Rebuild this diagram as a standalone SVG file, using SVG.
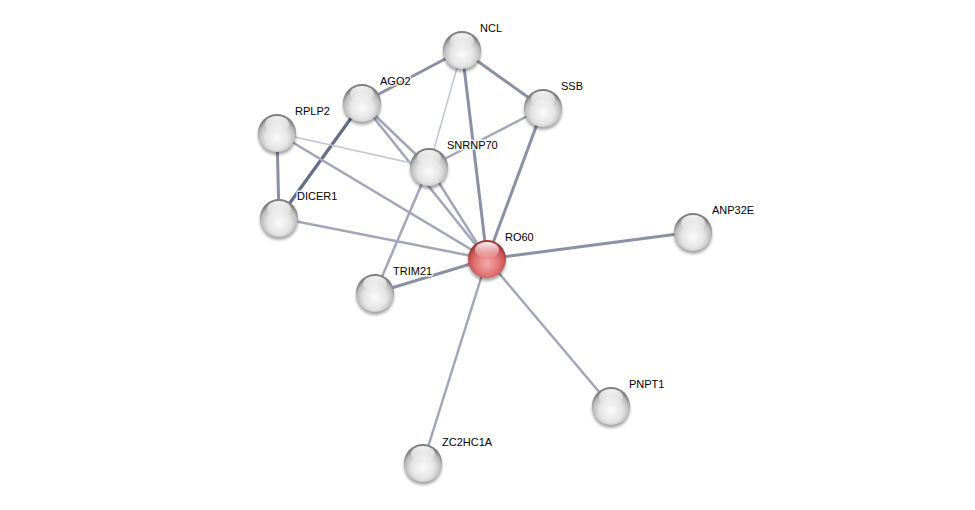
<svg xmlns="http://www.w3.org/2000/svg" width="975" height="510" viewBox="0 0 975 510">
<defs>
<radialGradient id="gw" cx="0.5" cy="0.62" r="0.55">
<stop offset="0" stop-color="#fbfbfb"/>
<stop offset="0.55" stop-color="#e4e4e4"/>
<stop offset="0.85" stop-color="#bcbcbc"/>
<stop offset="1" stop-color="#808080"/>
</radialGradient>
<radialGradient id="gr" cx="0.5" cy="0.62" r="0.55">
<stop offset="0" stop-color="#f6a9a9"/>
<stop offset="0.55" stop-color="#e37676"/>
<stop offset="0.85" stop-color="#c95454"/>
<stop offset="1" stop-color="#9c3a3a"/>
</radialGradient>
<linearGradient id="hl" x1="0" y1="0" x2="0" y2="1">
<stop offset="0" stop-color="#ffffff" stop-opacity="0.95"/>
<stop offset="1" stop-color="#ffffff" stop-opacity="0"/>
</linearGradient>
<filter id="sh" x="-50%" y="-50%" width="200%" height="200%">
<feGaussianBlur stdDeviation="1.8"/>
</filter>
<g id="ball">
<ellipse cx="0" cy="3" rx="19" ry="19" fill="#000" opacity="0.35" filter="url(#sh)"/>
<circle r="19" fill="url(#gw)"/>
<ellipse cx="0" cy="-9" rx="12" ry="8" fill="url(#hl)"/>
</g>
<g id="rball">
<ellipse cx="0" cy="3" rx="19" ry="19" fill="#000" opacity="0.35" filter="url(#sh)"/>
<circle r="19" fill="url(#gr)"/>
<ellipse cx="0" cy="-9" rx="12" ry="8" fill="url(#hl)"/>
</g>
</defs>
<style>
.e{fill:none;stroke-linecap:round}
.t1{stroke:#c2c5d2;stroke-width:1.5}
.t2{stroke:#a2a6b8;stroke-width:2.5}
.t3{stroke:#8b90a5;stroke-width:3}
.t4{stroke:#666d84;stroke-width:3.2}
text{font-family:"Liberation Sans",Arial,sans-serif;font-size:11px;fill:#000;paint-order:stroke;stroke:#fff;stroke-width:3;stroke-opacity:0.85;stroke-linejoin:round}
</style>
<rect width="975" height="510" fill="#fff"/>
<g id="edges">
<line class="e t3" x1="462" y1="50" x2="362" y2="103"/>
<line class="e t3" x1="462" y1="50" x2="543" y2="108"/>
<line class="e t1" x1="462" y1="50" x2="429" y2="167"/>
<line class="e t3" x1="462" y1="50" x2="487" y2="259"/>
<line class="e t2" x1="362" y1="103" x2="429" y2="167"/>
<line class="e t2" x1="362" y1="103" x2="487" y2="259"/>
<line class="e t4" x1="362" y1="103" x2="279" y2="218"/>
<line class="e t1" x1="277" y1="133" x2="429" y2="167"/>
<line class="e t2" x1="277" y1="133" x2="487" y2="259"/>
<line class="e t3" x1="277" y1="133" x2="279" y2="218"/>
<line class="e t2" x1="543" y1="108" x2="429" y2="167"/>
<line class="e t3" x1="543" y1="108" x2="487" y2="259"/>
<line class="e t2" x1="429" y1="167" x2="487" y2="259"/>
<line class="e t2" x1="429" y1="167" x2="375" y2="293"/>
<line class="e t2" x1="279" y1="218" x2="487" y2="259"/>
<line class="e t3" x1="375" y1="293" x2="487" y2="259"/>
<line class="e t3" x1="487" y1="259" x2="693" y2="232"/>
<line class="e t2" x1="487" y1="259" x2="611" y2="406"/>
<line class="e t2" x1="487" y1="259" x2="423" y2="463"/>
</g>
<g id="NCL"><use href="#ball" x="462" y="50"/><text x="480" y="32">NCL</text></g>
<g id="AGO2"><use href="#ball" x="362" y="103"/><text x="380" y="85">AGO2</text></g>
<g id="SSB"><use href="#ball" x="543" y="108"/><text x="561" y="90">SSB</text></g>
<g id="RPLP2"><use href="#ball" x="277" y="133"/><text x="295" y="115">RPLP2</text></g>
<g id="SNRNP70"><use href="#ball" x="429" y="167"/><text x="447" y="149">SNRNP70</text></g>
<g id="DICER1"><use href="#ball" x="279" y="218"/><text x="297" y="200">DICER1</text></g>
<g id="ANP32E"><use href="#ball" x="693" y="232"/><text x="712" y="214">ANP32E</text></g>
<g id="RO60"><use href="#rball" x="487" y="259"/><text x="505" y="241">RO60</text></g>
<g id="TRIM21"><use href="#ball" x="375" y="293"/><text x="393" y="275">TRIM21</text></g>
<g id="PNPT1"><use href="#ball" x="611" y="406"/><text x="629" y="388">PNPT1</text></g>
<g id="ZC2HC1A"><use href="#ball" x="423" y="463"/><text x="442" y="446">ZC2HC1A</text></g>
</svg>
